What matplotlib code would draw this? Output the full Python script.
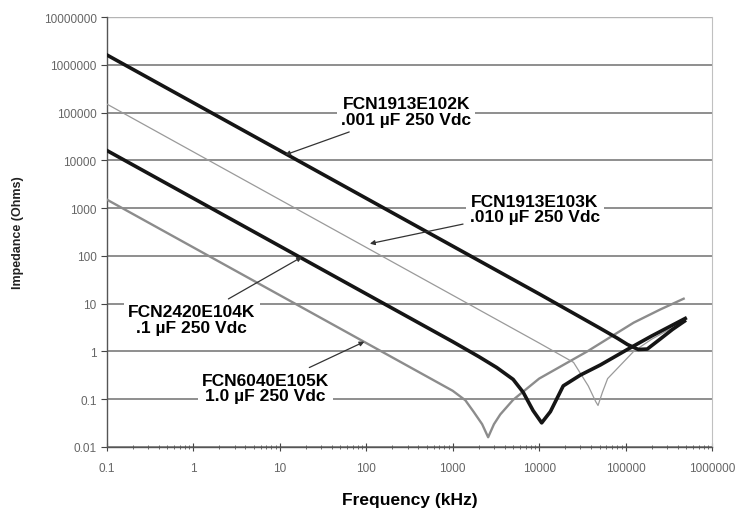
import matplotlib
matplotlib.use("Agg")
import matplotlib.pyplot as plt
from matplotlib.ticker import LogLocator, FixedLocator

plt.rcParams['font.family'] = ['Liberation Sans', 'DejaVu Sans']

# values (frequency in kHz, impedance in ohms)
f_001 = [0.1, 1, 10, 100, 1000, 1e4, 5e4, 8e4, 1.05e5, 1.4e5, 1.78e5, 2.5e5, 3.5e5, 4.8e5]
z_001 = [1.6e6, 1.6e5, 1.6e4, 1600, 160, 16, 3.1, 1.9, 1.4, 1.1, 1.12, 1.8, 2.9, 4.3]

f_010 = [0.1, 1, 10, 100, 1000, 1e4, 2.5e4, 3.7e4, 4.5e4, 4.8e4, 5.4e4, 6.2e4, 1.24e5, 2e5, 3e5, 4.9e5]
z_010 = [1.5e5, 1.5e4, 1500, 150, 15, 1.5, 0.59, 0.19, 0.09, 0.074, 0.14, 0.27, 1.0, 1.8, 2.7, 4.2]

f_100 = [0.1, 1, 10, 100, 1000, 2000, 3230, 5000, 6530, 8500, 1.07e4, 1.35e4, 1.9e4, 3e4, 5.1e4, 1.05e5, 2e5, 4.9e5]
z_100 = [1.6e4, 1600, 160, 16, 1.6, 0.78, 0.46, 0.26, 0.14, 0.058, 0.032, 0.055, 0.19, 0.32, 0.52, 1.1, 2.1, 4.9]

f_1000 = [0.1, 1, 10, 100, 1000, 1400, 1740, 2190, 2570, 3000, 3550, 5000, 1e4, 3.6e4, 1.24e5, 2.5e5, 4.7e5]
z_1000 = [1500, 150, 15, 1.5, 0.15, 0.095, 0.055, 0.03, 0.016, 0.03, 0.048, 0.097, 0.27, 1.0, 4.0, 7.5, 12.7]

y_ticks = [0.01, 0.1, 1, 10, 100, 1000, 10000, 100000, 1000000, 10000000]
y_labels = ['0.01', '0.1', '1', '10', '100', '1000', '10000', '100000', '1000000', '10000000']
x_ticks = [0.1, 1, 10, 100, 1000, 10000, 100000, 1000000]
x_labels = ['0.1', '1', '10', '100', '1000', '10000', '100000', '1000000']

fig = plt.figure(figsize=(7.52, 5.1), dpi=100)
ax = fig.add_axes([0.1423, 0.1216, 0.8045, 0.8431])

# horizontal gridlines
for yv in y_ticks[:-1]:
    ax.axhline(yv, color='#707070', lw=1.1, zorder=1)
ax.axhline(y_ticks[-1], color='#b4b4b4', lw=1.0, zorder=1)

# curves
ax.plot(f_1000, z_1000, color='#8c8c8c', lw=1.7, zorder=3)
ax.plot(f_010, z_010, color='#9a9a9a', lw=0.9, zorder=3)
ax.plot(f_100, z_100, color='#151515', lw=2.6, zorder=4)
ax.plot(f_001, z_001, color='#151515', lw=2.6, zorder=4)

ax.set_xscale('log')
ax.set_yscale('log')
ax.set_xlim(0.1, 1e6)
ax.set_ylim(0.01, 1e7)

ax.yaxis.set_major_locator(FixedLocator(y_ticks))
ax.set_yticklabels(y_labels)
ax.yaxis.set_minor_locator(plt.NullLocator())
ax.xaxis.set_major_locator(FixedLocator(x_ticks))
ax.set_xticklabels(x_labels)
ax.xaxis.set_minor_locator(LogLocator(base=10, subs=range(2, 10), numticks=20))

ax.tick_params(axis='both', which='major', labelsize=8.5, labelcolor='#666666',
               color='#444444', length=4, width=0.8, direction='out')
ax.tick_params(axis='x', which='major', direction='inout', length=6, pad=8)
ax.tick_params(axis='x', which='minor', direction='inout', length=3, width=0.6, color='#555555')

ax.spines['top'].set_visible(False)
ax.spines['right'].set_color('#c0c0c0')
ax.spines['right'].set_linewidth(0.8)
ax.spines['left'].set_color('#555555')
ax.spines['bottom'].set_color('#555555')
ax.spines['left'].set_linewidth(1.0)
ax.spines['bottom'].set_linewidth(1.0)

ax.set_xlabel('Frequency (kHz)', fontsize=12.5, fontweight='bold', labelpad=13)
ax.set_ylabel('Impedance (Ohms)', fontsize=9, fontweight='bold', labelpad=14, color='#222222')

# annotations
box = dict(facecolor='white', edgecolor='none', pad=3)
arrow = dict(arrowstyle='-|>', color='#333333', lw=0.9, mutation_scale=7, shrinkA=2, shrinkB=0)
lab = dict(fontsize=12.5, fontweight='bold', ha='center', va='center', linespacing=1.05,
           bbox=box, zorder=6)

ax.annotate('FCN1913E102K\n.001 \u00b5F 250 Vdc', xy=(11.5, 13000), xytext=(290, 1.05e5),
            arrowprops=arrow, **lab)
ax.annotate('FCN1913E103K\n.010 \u00b5F 250 Vdc', xy=(110, 180), xytext=(8950, 960),
            arrowprops=arrow, **lab)
ax.annotate('FCN2420E104K\n.1 \u00b5F 250 Vdc', xy=(18, 95), xytext=(0.96, 4.6),
            arrowprops=arrow, **lab)
ax.annotate('FCN6040E105K\n1.0 \u00b5F 250 Vdc', xy=(95, 1.6), xytext=(6.8, 0.17),
            arrowprops=arrow, **lab)

fig.savefig('out.png', dpi=100)
